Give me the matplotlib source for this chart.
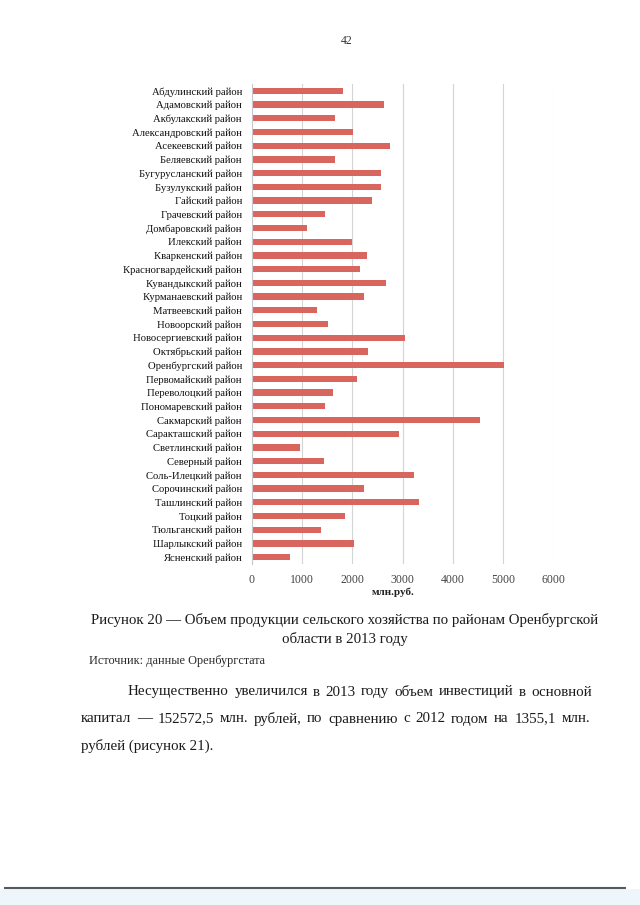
import matplotlib.pyplot as plt
from matplotlib.lines import Line2D
from matplotlib.patches import Rectangle

plt.rcParams['font.family'] = ['Liberation Serif', 'DejaVu Serif']

districts = [
    "Абдулинский район", "Адамовский район", "Акбулакский район",
    "Александровский район", "Асекеевский район", "Беляевский район",
    "Бугурусланский район", "Бузулукский район", "Гайский район",
    "Грачевский район", "Домбаровский район", "Илекский район",
    "Кваркенский район", "Красногвардейский район", "Кувандыкский район",
    "Курманаевский район", "Матвеевский район", "Новоорский район",
    "Новосергиевский район", "Октябрьский район", "Оренбургский район",
    "Первомайский район", "Переволоцкий район", "Пономаревский район",
    "Сакмарский район", "Саракташский район", "Светлинский район",
    "Северный район", "Соль-Илецкий район", "Сорочинский район",
    "Ташлинский район", "Тоцкий район", "Тюльганский район",
    "Шарлыкский район", "Ясненский район",
]
output = [
    1806, 2630, 1661, 2004, 2742, 1648, 2577, 2577, 2393, 1463, 1094, 1984,
    2285, 2159, 2669, 2232, 1291, 1523, 3046, 2305, 5007, 2093, 1616, 1465,
    4536, 2920, 960, 1444, 3232, 2225, 3318, 1854, 1384, 2033, 755,
]
xticks = [0, 1000, 2000, 3000, 4000, 5000, 6000]

W, H = 640, 905
fig = plt.figure(figsize=(6.4, 9.05), dpi=100)
fig.patch.set_facecolor('white')

ax = fig.add_axes([251.7 / W, 1 - 564 / H, 302 / W, 480 / H])
ax.barh(range(len(districts)), output, height=0.45, color='#d9665e')
ax.set_ylim(len(districts) - 0.5, -0.5)
ax.set_xlim(0, 6000)
ax.set_xticks(xticks)
ax.set_yticks(range(len(districts)))
ax.set_yticklabels(districts, fontsize=7.7, color='#111111')
ax.tick_params(axis='y', length=0, pad=7)
ax.tick_params(axis='x', length=0, pad=7.5, labelsize=8.5, labelcolor='#444444')
ax.xaxis.grid(True, color='#d4d4d4', linewidth=0.8)
ax.set_axisbelow(True)
for s in ['top', 'right', 'bottom']:
    ax.spines[s].set_visible(False)
ax.spines['left'].set_color('#c8c8c8')
ax.set_xlabel('млн.руб.', fontsize=8, fontweight='bold', color='#222222', labelpad=0)
ax.xaxis.set_label_coords(0.47, -0.048)


def px(x, y):
    return x / W, 1 - y / H


fig.text(*px(347, 41), '42', fontsize=8.5, ha='center', va='center', color='#333333')

fig.text(*px(345, 620), 'Рисунок 20 — Объем продукции сельского хозяйства по районам Оренбургской',
         fontsize=10.7, ha='center', va='center', color='#1a1a1a')
fig.text(*px(345, 639), 'области в 2013 году', fontsize=10.7, ha='center', va='center', color='#1a1a1a')
fig.text(*px(89, 661), 'Источник: данные Оренбургстата', fontsize=8.8, ha='left', va='center', color='#2a2a2a')

renderer = fig.canvas.get_renderer()


def justify(y, line, x0, x1, size=10.8):
    words = line.split()
    texts = [fig.text(*px(x0, y), w, fontsize=size, ha='left', va='center', color='#1a1a1a') for w in words]
    widths = [t.get_window_extent(renderer).width for t in texts]
    gap = (x1 - x0 - sum(widths)) / (len(words) - 1)
    x = x0
    for t, w in zip(texts, widths):
        t.set_position(px(x, y))
        x += w + gap


justify(692, 'Несущественно увеличился в 2013 году объем инвестиций в основной', 128, 592)
justify(719, 'капитал — 152572,5 млн. рублей, по сравнению с 2012 годом на 1355,1 млн.', 81, 590)
fig.text(*px(81, 746), 'рублей (рисунок 21).', fontsize=10.8, ha='left', va='center', color='#1a1a1a')

fig.add_artist(Rectangle((0, 0), 1, 1 - 889 / H, transform=fig.transFigure,
                         facecolor='#eef6fb', edgecolor='none', zorder=0))
fig.add_artist(Line2D([5 / W, 625 / W], [1 - 888 / H] * 2, transform=fig.transFigure,
                      color='#555a5c', linewidth=1.5))

fig.savefig('out.png', dpi=100)
